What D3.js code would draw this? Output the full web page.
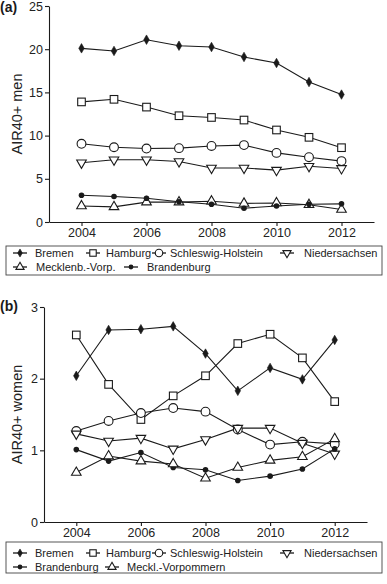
<!DOCTYPE html>
<html>
<head>
<meta charset="utf-8">
<script src="https://cdn.jsdelivr.net/npm/d3@7"></script>
<style>
  body { margin: 0; background: #fff; }
  svg { display: block; font-family: Arial, "Liberation Sans", sans-serif; }
</style>
</head>
<body>
<div id="chart"></div>
<script>
const years = [2004, 2005, 2006, 2007, 2008, 2009, 2010, 2011, 2012];

// panel (a) men
const menBremen = [20.1, 19.8, 21.1, 20.4, 20.25, 19.1, 18.4, 16.2, 14.75];
const menHamburg = [13.9, 14.2, 13.3, 12.3, 12.1, 11.8, 10.65, 9.8, 8.6];
const menSchleswig = [9.05, 8.65, 8.5, 8.55, 8.8, 8.9, 8.0, 7.5, 7.05];
const menNieders = [6.85, 7.2, 7.2, 7.0, 6.25, 6.25, 6.0, 6.45, 6.2];
const menMecklenb = [1.85, 1.75, 2.3, 2.3, 2.4, 2.15, 2.2, 2.0, 1.45];
const menBrandenb = [3.1, 2.95, 2.75, 2.35, 2.05, 1.6, 1.85, 2.05, 2.1];

// panel (b) women
const womBremen = [2.04, 2.68, 2.69, 2.73, 2.35, 1.83, 2.15, 1.99, 2.54];
const womHamburg = [2.61, 1.92, 1.43, 1.76, 2.04, 2.49, 2.62, 2.29, 1.68];
const womSchleswig = [1.27, 1.41, 1.52, 1.59, 1.54, 1.29, 1.08, 1.12, 1.09];
const womNieders = [1.23, 1.13, 1.17, 1.02, 1.15, 1.31, 1.31, 1.1, 0.95];
const womBrandenb = [1.01, 0.85, 0.97, 0.76, 0.73, 0.58, 0.64, 0.74, 1.02];
const womMeckl = [0.69, 0.92, 0.85, 0.81, 0.61, 0.76, 0.86, 0.91, 1.16];

const xTicks = [2004, 2006, 2008, 2010, 2012];
const yTicksA = [0, 5, 10, 15, 20, 25];
const yTicksB = [0, 1, 2, 3];

const seriesA = [
    { name: "Bremen", values: menBremen, marker: "diamond" },
    { name: "Hamburg", values: menHamburg, marker: "square" },
    { name: "Schleswig-Holstein", values: menSchleswig, marker: "circle" },
    { name: "Niedersachsen", values: menNieders, marker: "tridown" },
    { name: "Mecklenb.-Vorp.", values: menMecklenb, marker: "triup" },
    { name: "Brandenburg", values: menBrandenb, marker: "dot" }
];
const seriesB = [
    { name: "Bremen", values: womBremen, marker: "diamond" },
    { name: "Hamburg", values: womHamburg, marker: "square" },
    { name: "Schleswig-Holstein", values: womSchleswig, marker: "circle" },
    { name: "Niedersachsen", values: womNieders, marker: "tridown" },
    { name: "Brandenburg", values: womBrandenb, marker: "dot" },
    { name: "Meckl.-Vorpommern", values: womMeckl, marker: "triup" }
];

const width = 387, height = 584;
const ink = "#1a1a1a";

const svg = d3.select("#chart")
    .append("svg")
    .attr("width", width)
    .attr("height", height);

// draws a marker at 0,0 inside g, scale k
function drawMarker(g, type, k) {
    if (type === "diamond") {
        g.append("path").attr("d", d3.symbol(d3.symbolDiamond, 26 * k * k)())
            .attr("fill", ink).attr("stroke", ink).attr("stroke-width", 0.6);
    } else if (type === "dot") {
        g.append("circle").attr("r", 2.8 * k).attr("fill", ink);
    } else if (type === "square") {
        g.append("rect").attr("x", -3.8 * k).attr("y", -3.8 * k)
            .attr("width", 7.6 * k).attr("height", 7.6 * k)
            .attr("fill", "#fff").attr("stroke", ink).attr("stroke-width", 1.1);
    } else if (type === "circle") {
        g.append("circle").attr("r", 4.4 * k)
            .attr("fill", "#fff").attr("stroke", ink).attr("stroke-width", 1.1);
    } else {
        const p = g.append("path").attr("d", d3.symbol(d3.symbolTriangle, 40 * k * k)())
            .attr("fill", "#fff").attr("stroke", ink).attr("stroke-width", 1.1);
        if (type === "tridown") p.attr("transform", "rotate(180)");
    }
}

function panel(opts) {
    const x = d3.scaleLinear().domain([2003, 2013]).range(opts.xRange);
    const y = d3.scaleLinear().domain(opts.yDomain).range(opts.yRange);

    const g = svg.append("g");

    const xAxis = g.append("g")
        .attr("transform", `translate(0,${opts.yRange[0]})`)
        .call(d3.axisBottom(x).tickValues(xTicks).tickFormat(d3.format("d"))
            .tickSize(4).tickSizeOuter(0).tickPadding(2));
    const yAxis = g.append("g")
        .attr("transform", `translate(${opts.xRange[0]},0)`)
        .call(d3.axisLeft(y).tickValues(opts.yTicks).tickFormat(d3.format("d"))
            .tickSize(4).tickSizeOuter(0).tickPadding(2));

    [xAxis, yAxis].forEach(a => {
        a.select(".domain").attr("stroke", ink).attr("stroke-width", 1.1);
        a.selectAll(".tick line").attr("stroke", ink).attr("stroke-width", 1.1);
        a.selectAll(".tick text").attr("fill", "#222")
            .attr("font-size", "12.5px").attr("font-family", "Arial, sans-serif");
    });

    const line = d3.line()
        .x((d, i) => x(years[i]))
        .y(d => y(d));

    // lines first, then markers on top
    opts.series.forEach(s => {
        g.append("path")
            .attr("d", line(s.values))
            .attr("fill", "none")
            .attr("stroke", ink)
            .attr("stroke-width", 1.1);
    });
    opts.series.forEach(s => {
        s.values.forEach((v, i) => {
            const m = g.append("g").attr("transform", `translate(${x(years[i])},${y(v)})`);
            drawMarker(m, s.marker, 1);
        });
    });

    // panel tag
    svg.append("text")
        .attr("x", 0)
        .attr("y", opts.tagY)
        .attr("font-size", "14px")
        .attr("font-weight", "bold")
        .attr("fill", ink)
        .text(opts.tag);

    // y label
    const ym = (opts.yRange[0] + opts.yRange[1]) / 2;
    svg.append("text")
        .attr("transform", `translate(22,${ym}) rotate(-90)`)
        .attr("text-anchor", "middle")
        .attr("font-size", "14.5px")
        .attr("fill", "#222")
        .text(opts.yLabel);

    // legend
    const lg = svg.append("g");
    lg.append("rect")
        .attr("x", opts.legend.x).attr("y", opts.legend.y)
        .attr("width", opts.legend.w).attr("height", opts.legend.h)
        .attr("fill", "#fff").attr("stroke", "#444").attr("stroke-width", 0.9);

    opts.series.forEach((s, i) => {
        const pos = opts.legend.items[i];
        const it = lg.append("g").attr("transform", `translate(${pos[0]},${pos[1]})`);
        it.append("line").attr("x1", 0).attr("x2", 14).attr("y1", 0).attr("y2", 0)
            .attr("stroke", ink).attr("stroke-width", 1.3);
        drawMarker(it.append("g").attr("transform", "translate(7,0)"), s.marker, 0.85);
        it.append("text")
            .attr("x", pos[2] - pos[0])
            .attr("y", 4)
            .attr("font-size", "11px")
            .attr("fill", "#222")
            .text(s.name);
    });
}

panel({
    series: seriesA,
    xRange: [49, 374],
    yDomain: [0, 25],
    yRange: [222, 6],
    yTicks: yTicksA,
    tag: "(a)",
    tagY: 12,
    yLabel: "AIR40+ men",
    legend: {
        x: 6, y: 246, w: 376, h: 29,
        items: [[13, 253, 35], [86, 253, 106], [152, 253, 170], [280, 253, 304],
                [13, 267, 36], [124, 267, 147]]
    }
});

panel({
    series: seriesB,
    xRange: [44, 367],
    yDomain: [0, 3],
    yRange: [522, 307],
    yTicks: yTicksB,
    tag: "(b)",
    tagY: 311,
    yLabel: "AIR40+ women",
    legend: {
        x: 6, y: 542, w: 376, h: 31,
        items: [[13, 553, 35], [86, 553, 106], [152, 553, 170], [280, 553, 304],
                [13, 567, 35], [105, 567, 127]]
    }
});
</script>
</body>
</html>
